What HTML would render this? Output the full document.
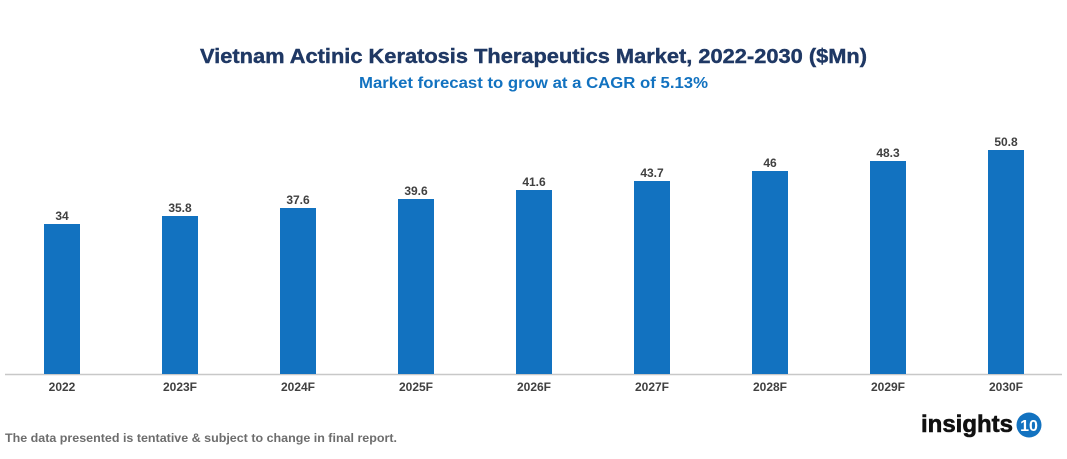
<!DOCTYPE html>
<html><head><style>
body{margin:0;background:#fff;width:1067px;height:454px;overflow:hidden;font-family:"Liberation Sans",Arial,sans-serif;}
</style></head><body>
<svg width="1067" height="454" xmlns="http://www.w3.org/2000/svg" font-family="Liberation Sans, Arial, sans-serif">
<text x="200" y="63" textLength="667" lengthAdjust="spacingAndGlyphs" font-size="20" font-weight="bold" fill="#1f3864" stroke="#1f3864" stroke-width="0.4">Vietnam Actinic Keratosis Therapeutics Market, 2022-2030 ($Mn)</text>
<text x="359" y="88" textLength="349" lengthAdjust="spacingAndGlyphs" font-size="15.5" font-weight="bold" fill="#1272c0">Market forecast to grow at a CAGR of 5.13%</text>
<line x1="5" y1="374.5" x2="1062" y2="374.5" stroke="#c8c8c8" stroke-width="1.5"/>
<g fill="#1272c0">
<rect x="44" y="224" width="36" height="150"/>
<rect x="162" y="216" width="36" height="158"/>
<rect x="280" y="208" width="36" height="166"/>
<rect x="398" y="199" width="36" height="175"/>
<rect x="516" y="190" width="36" height="184"/>
<rect x="634" y="181" width="36" height="193"/>
<rect x="752" y="171" width="36" height="203"/>
<rect x="870" y="161" width="36" height="213"/>
<rect x="988" y="150" width="36" height="224"/>
</g>
<g font-size="12" font-weight="bold" fill="#404040" text-anchor="middle">
<text x="62" y="220">34</text><text x="180" y="212">35.8</text><text x="298" y="204">37.6</text>
<text x="416" y="195">39.6</text><text x="534" y="186">41.6</text><text x="652" y="177">43.7</text>
<text x="770" y="167">46</text><text x="888" y="157">48.3</text><text x="1006" y="146">50.8</text>
</g>
<g font-size="12" font-weight="bold" fill="#404040" text-anchor="middle">
<text x="62" y="391">2022</text><text x="180" y="391">2023F</text><text x="298" y="391">2024F</text>
<text x="416" y="391">2025F</text><text x="534" y="391">2026F</text><text x="652" y="391">2027F</text>
<text x="770" y="391">2028F</text><text x="888" y="391">2029F</text><text x="1006" y="391">2030F</text>
</g>
<text x="5" y="442" textLength="392" lengthAdjust="spacingAndGlyphs" font-size="12" font-weight="bold" fill="#6d6d6d">The data presented is tentative &amp; subject to change in final report.</text>
<text x="921" y="432" textLength="92" lengthAdjust="spacingAndGlyphs" font-size="24" font-weight="bold" fill="#111" stroke="#111" stroke-width="0.6">insights</text>
<circle cx="1029" cy="425" r="12.5" fill="#1272c0"/>
<text x="1029" y="431" text-anchor="middle" font-size="16" font-weight="bold" fill="#fff">10</text>
</svg>
</body></html>
